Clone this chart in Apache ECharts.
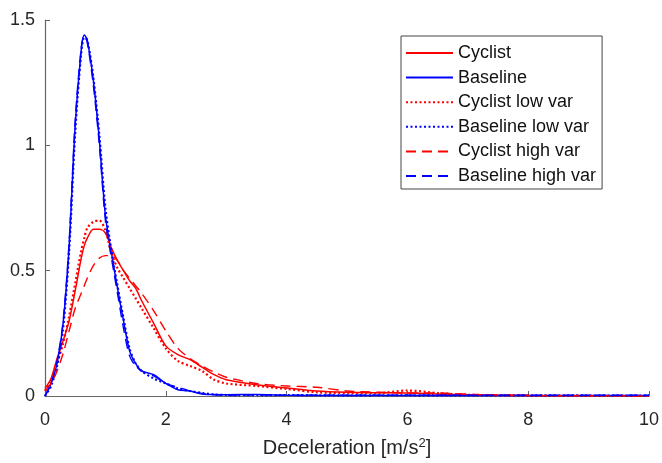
<!DOCTYPE html>
<html>
<head>
<meta charset="utf-8">
<script src="https://cdn.jsdelivr.net/npm/echarts@6/dist/echarts.min.js"></script>
<style>
  html, body { margin: 0; padding: 0; background: #fff; }
  #chart { width: 662px; height: 463px; }
</style>
</head>
<body>
<div id="chart"></div>
<script>
// deceleration grid (m/s^2)
var xs = [0, 0.1, 0.2, 0.3, 0.4, 0.5, 0.6, 0.65, 0.7, 0.8, 0.9, 1.0, 1.1, 1.2, 1.3, 1.4, 1.5, 1.6, 1.8, 2.0,
          2.2, 2.4, 2.6, 2.8, 3.0, 3.5, 4.0, 4.5, 5.0, 5.5, 6.0, 6.5, 7.0, 8.0, 9.0, 10.0];

var cyclist = [0.03, 0.07, 0.15, 0.22, 0.3, 0.42, 0.55, 0.6, 0.63, 0.665, 0.665, 0.65, 0.59, 0.54, 0.5, 0.46, 0.43, 0.38, 0.29, 0.2,
               0.165, 0.145, 0.115, 0.085, 0.065, 0.045, 0.032, 0.02, 0.015, 0.013, 0.012, 0.008, 0.005, 0.002, 0.001, 0];
var baseline = [0, 0.05, 0.13, 0.29, 0.6, 1.08, 1.38, 1.44, 1.42, 1.26, 1.02, 0.72, 0.57, 0.43, 0.3, 0.18, 0.13, 0.1, 0.085, 0.05,
                0.025, 0.02, 0.008, 0.006, 0.005, 0.006, 0.003, 0.002, 0.002, 0.002, 0.002, 0.002, 0.002, 0.002, 0.002, 0.002];
var cyclistLow = [0.02, 0.06, 0.13, 0.21, 0.32, 0.45, 0.58, 0.63, 0.67, 0.695, 0.7, 0.66, 0.57, 0.51, 0.47, 0.43, 0.39, 0.35, 0.27, 0.19,
                  0.14, 0.12, 0.1, 0.065, 0.05, 0.04, 0.028, 0.015, 0.012, 0.012, 0.022, 0.012, 0.005, 0.002, 0.001, 0];
var baselineLow = [0, 0.04, 0.12, 0.27, 0.58, 1.05, 1.37, 1.43, 1.42, 1.27, 1.04, 0.75, 0.58, 0.44, 0.31, 0.19, 0.13, 0.1, 0.07, 0.05,
                   0.03, 0.02, 0.012, 0.006, 0.004, 0.003, 0.004, 0.003, 0.002, 0.003, 0.003, 0.002, 0.002, 0.002, 0.002, 0.002];
var cyclistHigh = [0.02, 0.05, 0.1, 0.17, 0.26, 0.35, 0.41, 0.44, 0.47, 0.52, 0.55, 0.56, 0.56, 0.54, 0.5, 0.47, 0.44, 0.41, 0.34, 0.26,
                   0.19, 0.15, 0.12, 0.095, 0.075, 0.05, 0.04, 0.035, 0.02, 0.015, 0.012, 0.012, 0.007, 0.002, 0.001, 0];
var baselineHigh = [0, 0.05, 0.14, 0.3, 0.62, 1.1, 1.39, 1.44, 1.41, 1.24, 1.0, 0.7, 0.55, 0.41, 0.27, 0.16, 0.12, 0.1, 0.08, 0.05,
                    0.035, 0.02, 0.01, 0.005, 0.003, 0.004, 0.003, 0.003, 0.003, 0.003, 0.003, 0.003, 0.003, 0.003, 0.003, 0.003];

var names = ['Cyclist', 'Baseline', 'Cyclist low var', 'Baseline low var', 'Cyclist high var', 'Baseline high var'];
var xTicks = [0, 2, 4, 6, 8, 10];
var yTicks = [0, 0.5, 1, 1.5];

var font = 'Liberation Sans, Arial, sans-serif';

function pairs(ys) {
  return xs.map(function (x, i) { return [x, ys[i]]; });
}

function mkSeries(name, ys, color, type, width) {
  return {
    name: name,
    type: 'line',
    data: pairs(ys),
    smooth: 0.3,
    symbol: 'none',
    animation: false,
    lineStyle: { color: color, width: width, type: type },
    itemStyle: { color: color }
  };
}

var chart = echarts.init(document.getElementById('chart'), null, { renderer: 'canvas' });
chart.setOption({
  backgroundColor: '#fff',
  animation: false,
  textStyle: { fontFamily: font },
  grid: { left: 45, right: 11, top: 20, bottom: 66 },
  legend: {
    orient: 'vertical',
    left: 401,
    top: 36,
    data: names,
    itemWidth: 47,
    itemHeight: 18,
    itemGap: 6.6,
    padding: [8, 6, 4, 4],
    borderColor: '#444',
    borderWidth: 1,
    backgroundColor: '#fff',
    itemStyle: { opacity: 0 },
    textStyle: { fontSize: 18, color: '#111', fontFamily: font, lineHeight: 18 }
  },
  xAxis: {
    type: 'value',
    min: 0, max: 10, interval: 2,
    name: '{a|Deceleration [m/s}{b|2}{a|]}',
    nameLocation: 'middle',
    nameGap: 41,
    nameTextStyle: {
      rich: {
        a: { fontSize: 20, color: '#262626', fontFamily: font },
        b: { fontSize: 13, color: '#262626', fontFamily: font, verticalAlign: 'top', padding: [0, 0, 9, 0] }
      }
    },
    axisLine: { lineStyle: { color: '#666', width: 1.2 } },
    axisTick: { inside: true, length: 5, lineStyle: { color: '#666' } },
    axisLabel: {
      margin: 15, fontSize: 18, color: '#262626',
      formatter: function (v) { return xTicks.indexOf(v) >= 0 ? String(v) : ''; }
    },
    splitLine: { show: false }
  },
  yAxis: {
    type: 'value',
    min: 0, max: 1.5, interval: 0.5,
    axisLine: { show: true, lineStyle: { color: '#666', width: 1.2 } },
    axisTick: { show: true, inside: true, length: 5, lineStyle: { color: '#666' } },
    axisLabel: {
      margin: 10, fontSize: 18, color: '#262626',
      formatter: function (v) { return yTicks.indexOf(v) >= 0 ? String(v) : ''; }
    },
    splitLine: { show: false }
  },
  series: [
    mkSeries(names[0], cyclist, '#ff0000', 'solid', 1.5),
    mkSeries(names[1], baseline, '#0000ff', 'solid', 1.5),
    mkSeries(names[2], cyclistLow, '#ff0000', [2, 2.5], 2.2),
    mkSeries(names[3], baselineLow, '#0000ff', [2, 2.5], 2.2),
    mkSeries(names[4], cyclistHigh, '#ff0000', [10, 6], 1.4),
    mkSeries(names[5], baselineHigh, '#0000ff', [10, 6], 1.4)
  ]
});
</script>
</body>
</html>
